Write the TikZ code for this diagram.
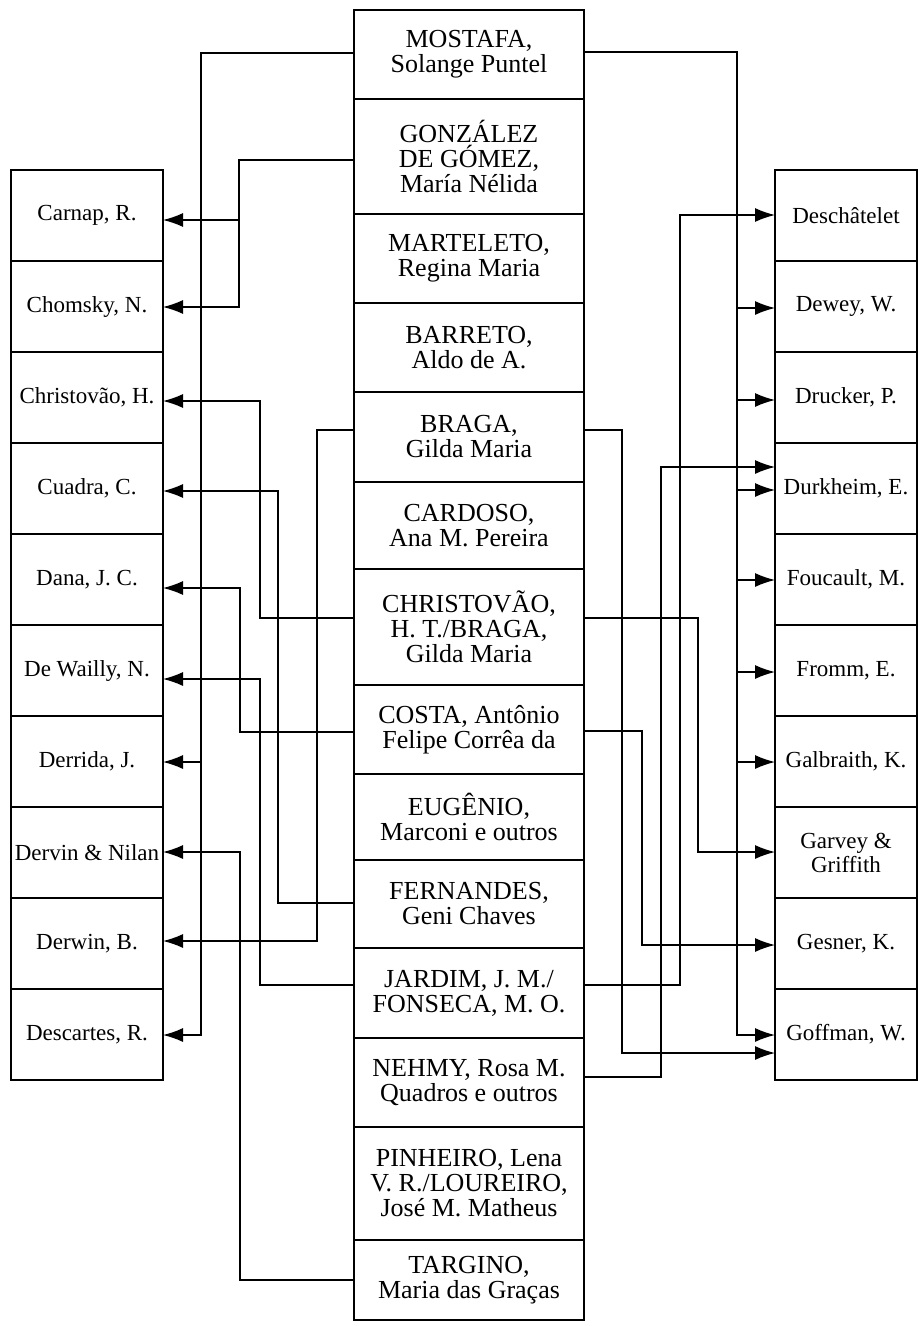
\documentclass[tikz,border=0pt]{standalone}
\usepackage{fontspec}
\setmainfont{Liberation Serif}
\usepackage{tikz}
\usetikzlibrary{arrows.meta,positioning}

\begin{document}
\begin{tikzpicture}[x=1pt,y=-1pt,
  mid/.style={draw, line width=2.8pt, outer sep=0pt, inner sep=0pt, minimum width=230pt, align=center, font=\fontsize{26}{25}\selectfont},
  side/.style={draw, line width=1.7pt, outer sep=0pt, inner sep=0pt, minimum height=91pt, align=center, font=\fontsize{23}{24}\selectfont},
  lbox/.style={side, minimum width=152pt},
  rbox/.style={side, minimum width=142pt},
  link/.style={line width=1.3pt, -{Latex[length=20pt,width=14pt]}}
]
  \useasboundingbox (0,0) rectangle (918,1326);

  \node[mid, minimum height=89pt, anchor=north] (mostafa) at (469,10) {MOSTAFA,\\Solange Puntel};
  \node[mid, minimum height=115pt, below=0pt of mostafa] (gonzalez) {GONZÁLEZ\\DE GÓMEZ,\\María Nélida};
  \node[mid, minimum height=89pt, below=0pt of gonzalez] (marteleto) {MARTELETO,\\Regina Maria};
  \node[mid, minimum height=89pt, below=0pt of marteleto] (barreto) {BARRETO,\\Aldo de A.};
  \node[mid, minimum height=90pt, below=0pt of barreto] (braga) {BRAGA,\\Gilda Maria};
  \node[mid, minimum height=87pt, below=0pt of braga] (cardoso) {CARDOSO,\\Ana M. Pereira};
  \node[mid, minimum height=116pt, below=0pt of cardoso] (christovao) {CHRISTOVÃO,\\H. T./BRAGA,\\Gilda Maria};
  \node[mid, minimum height=89pt, below=0pt of christovao] (costa) {COSTA, Antônio\\Felipe Corrêa da};
  \node[mid, minimum height=86pt, below=0pt of costa] (eugenio) {EUGÊNIO,\\Marconi e outros};
  \node[mid, minimum height=88pt, below=0pt of eugenio] (fernandes) {FERNANDES,\\Geni Chaves};
  \node[mid, minimum height=90pt, below=0pt of fernandes] (jardim) {JARDIM, J. M./\\FONSECA, M. O.};
  \node[mid, minimum height=89pt, below=0pt of jardim] (nehmy) {NEHMY, Rosa M.\\Quadros e outros};
  \node[mid, minimum height=113pt, below=0pt of nehmy] (pinheiro) {PINHEIRO, Lena\\V. R./LOUREIRO,\\José M. Matheus};
  \node[mid, minimum height=80pt, below=0pt of pinheiro] (targino) {TARGINO,\\Maria das Graças};

  \node[lbox, anchor=north] (carnap) at (87,170) {Carnap, R.};
  \node[lbox, below=0pt of carnap] (chomsky) {Chomsky, N.};
  \node[lbox, below=0pt of chomsky] (christovaoh) {Christovão, H.};
  \node[lbox, below=0pt of christovaoh] (cuadra) {Cuadra, C.};
  \node[lbox, below=0pt of cuadra] (dana) {Dana, J. C.};
  \node[lbox, below=0pt of dana] (dewailly) {De Wailly, N.};
  \node[lbox, below=0pt of dewailly] (derrida) {Derrida, J.};
  \node[lbox, below=0pt of derrida] (dervin) {Dervin \& Nilan};
  \node[lbox, below=0pt of dervin] (derwin) {Derwin, B.};
  \node[lbox, below=0pt of derwin] (descartes) {Descartes, R.};

  \node[rbox, anchor=north] (deschatelet) at (846,170) {Deschâtelet};
  \node[rbox, below=0pt of deschatelet] (dewey) {Dewey, W.};
  \node[rbox, below=0pt of dewey] (drucker) {Drucker, P.};
  \node[rbox, below=0pt of drucker] (durkheim) {Durkheim, E.};
  \node[rbox, below=0pt of durkheim] (foucault) {Foucault, M.};
  \node[rbox, below=0pt of foucault] (fromm) {Fromm, E.};
  \node[rbox, below=0pt of fromm] (galbraith) {Galbraith, K.};
  \node[rbox, below=0pt of galbraith] (garvey) {Garvey \&\\Griffith};
  \node[rbox, below=0pt of garvey] (gesner) {Gesner, K.};
  \node[rbox, below=0pt of gesner] (goffman) {Goffman, W.};

  \draw[link] (mostafa.west |- 0,53) -| (201,1035) -- (descartes.east |- 0,1035);
  \draw[link] (201,762) -- (derrida.east |- 0,762);
  \draw[link] (gonzalez.west |- 0,160) -| (239,307) -- (chomsky.east |- 0,307);
  \draw[link] (239,220) -- (carnap.east |- 0,220);
  \draw[link] (braga.west |- 0,430) -| (317,941) -- (derwin.east |- 0,941);
  \draw[link] (christovao.west |- 0,618) -| (260,401) -- (christovaoh.east |- 0,401);
  \draw[link] (costa.west |- 0,732) -| (240,588) -- (dana.east |- 0,588);
  \draw[link] (fernandes.west |- 0,903) -| (278,491) -- (cuadra.east |- 0,491);
  \draw[link] (jardim.west |- 0,985) -| (260,679) -- (dewailly.east |- 0,679);
  \draw[link] (targino.west |- 0,1280) -| (240,852) -- (dervin.east |- 0,852);

  \draw[link] (mostafa.east |- 0,52) -| (737,1035) -- (goffman.west |- 0,1035);
  \foreach \y/\n in {308/dewey,400/drucker,490/durkheim,580/foucault,672/fromm,762/galbraith}
    \draw[link] (737,\y) -- (\n.west |- 0,\y);
  \draw[link] (braga.east |- 0,430) -| (622,1053) -- (goffman.west |- 0,1053);
  \draw[link] (christovao.east |- 0,618) -| (698,852) -- (garvey.west |- 0,852);
  \draw[link] (costa.east |- 0,731) -| (642,945) -- (gesner.west |- 0,945);
  \draw[link] (jardim.east |- 0,985) -| (680,215) -- (deschatelet.west |- 0,215);
  \draw[link] (nehmy.east |- 0,1077) -| (661,467) -- (durkheim.west |- 0,467);
\end{tikzpicture}
\end{document}
